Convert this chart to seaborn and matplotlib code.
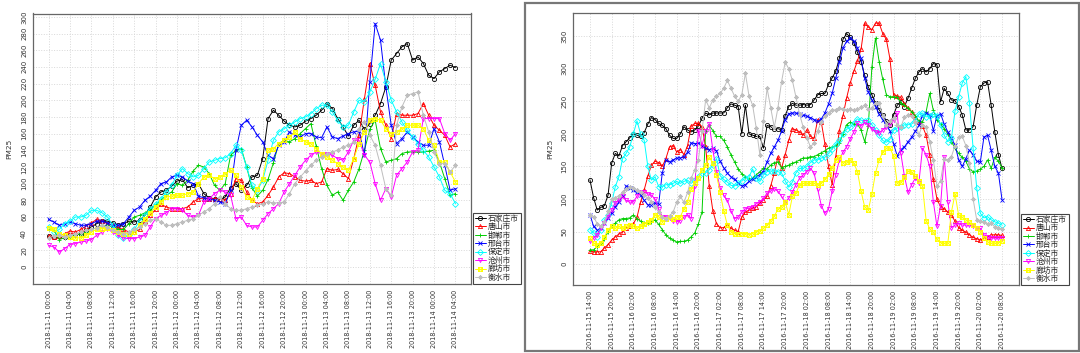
import numpy as np
import pandas as pd
import matplotlib
matplotlib.use("Agg")
import matplotlib.pyplot as plt
from matplotlib.path import Path
from matplotlib.patches import Rectangle
import seaborn as sns

# ---------------- data ----------------
cities = ['石家庄市', '唐山市', '邯郸市', '邢台市', '保定市', '沧州市', '廊坊市', '衡水市']

left_start = '2018-11-11 00:00'
left_tick_start, left_tick_end, left_tick_step = '2018-11-11 00:00', '2018-11-14 04:00', '4h'
right_start = '2016-11-15 14:00'
right_tick_start, right_tick_end, right_tick_step = '2016-11-15 14:00', '2016-11-20 08:00', '6h'

# left panel: hourly PM2.5, 2018-11-11 00:00 .. 2018-11-14 04:00
L_shijiazhuang = [37,36,37,36,38,38,40,44,48,52,
                  55,55,53,50,52,55,54,56,62,72,
                  84,90,92,97,103,105,95,98,100,88,
                  83,82,81,84,95,100,92,98,108,110,
                  130,178,188,182,175,170,168,170,175,178,
                  182,188,196,190,178,168,157,170,176,165,
                  172,182,196,216,248,256,264,268,248,252,
                  244,230,226,234,238,242,239]
L_tangshan = [37,36,37,40,43,42,45,49,53,57,
              55,52,50,47,45,42,42,45,55,62,
              69,75,72,70,70,70,72,78,82,82,
              82,82,82,80,88,106,104,90,80,76,
              78,86,96,108,113,112,108,104,103,104,
              100,102,118,116,117,112,106,130,158,202,
              244,218,186,170,154,184,182,182,182,184,
              196,182,170,164,158,144,148]
L_handan = [45,44,33,35,36,38,40,42,45,47,
            48,50,48,45,45,52,60,62,65,68,
            75,80,86,90,100,98,104,115,122,120,
            112,98,92,100,134,140,142,120,95,85,
            92,105,125,148,152,150,154,160,166,172,
            145,118,98,86,90,80,92,102,118,140,
            165,176,142,126,128,130,136,138,138,138,
            138,139,140,126,106,86,88]
L_xingtai = [57,54,50,52,54,52,50,50,52,55,
             55,53,50,50,52,60,68,72,80,85,
             92,100,102,108,110,108,103,100,85,83,
             82,80,78,76,92,140,170,176,168,158,
             150,134,130,146,150,162,158,156,160,160,
             156,155,168,156,154,157,160,162,163,134,
             222,292,272,216,170,148,154,162,156,150,
             146,146,166,150,122,92,94]
L_baoding = [48,42,45,52,55,60,60,62,68,68,
             65,60,50,38,35,38,45,55,62,70,
             75,82,90,98,110,118,112,108,110,118,
             126,128,130,131,136,146,140,120,98,92,
             104,128,152,162,166,170,174,178,180,184,
             190,194,194,186,176,168,170,186,200,198,
             210,225,244,222,200,186,174,164,156,148,
             140,132,120,108,92,88,76]
L_cangzhou = [26,24,18,22,27,28,30,31,33,38,
              42,45,42,38,35,34,34,36,38,48,
              58,62,65,70,70,68,62,60,62,78,
              82,88,92,90,86,58,60,50,48,48,
              56,64,70,76,90,100,110,120,128,134,
              138,136,136,134,130,128,138,152,152,134,
              126,100,80,94,84,110,118,126,138,140,
              178,178,178,178,160,152,160]
L_langfang = [47,45,40,38,36,35,35,38,42,45,
              46,47,44,42,40,40,42,50,58,65,
              72,78,84,85,86,86,88,90,100,108,
              110,106,108,112,116,110,96,84,80,94,
              106,140,142,148,152,156,162,154,150,148,
              142,136,132,128,124,120,116,130,148,162,
              176,178,176,166,160,162,166,170,170,170,
              166,152,146,126,126,114,102]
L_hengshui = [35,37,38,36,38,40,42,44,45,47,
              50,48,44,42,40,42,45,48,52,56,
              58,54,50,50,52,54,56,58,62,66,
              70,76,84,76,70,68,68,70,72,74,
              76,78,77,77,78,88,100,108,115,122,
              128,132,136,138,140,144,146,150,165,174,
              158,146,122,94,86,170,192,206,208,210,
              182,162,138,124,124,114,122]

# right panel: hourly PM2.5, 2016-11-15 14:00 .. 2016-11-20 08:00
R_shijiazhuang = [129,102,83,87,90,106,155,170,166,182,
                  188,194,200,198,196,202,215,225,222,216,
                  213,208,198,193,193,200,211,206,203,206,
                  212,224,232,229,232,232,232,232,240,246,
                  244,242,200,244,200,198,196,196,178,213,
                  211,207,208,206,228,242,247,244,244,245,
                  244,245,252,260,262,262,276,286,296,316,
                  345,354,348,340,325,311,290,272,260,247,
                  237,229,219,214,229,244,249,242,255,270,
                  285,295,300,295,300,308,306,249,270,262,
                  252,251,242,229,206,206,211,244,272,278,
                  280,244,203,168,147]
R_tangshan = [20,19,19,19,25,30,37,42,46,50,
              55,58,62,72,95,114,135,152,158,156,
              150,162,180,182,172,176,168,182,212,216,
              216,211,180,120,82,62,56,56,60,55,
              52,50,72,80,83,86,88,94,99,104,
              120,140,165,147,168,190,208,206,203,198,
              206,196,193,222,218,185,150,122,165,205,
              228,255,278,296,312,330,370,364,360,370,
              370,354,345,315,260,258,256,246,240,234,
              226,218,212,198,168,130,100,88,85,80,
              75,66,56,52,49,45,41,39,37,40,
              42,45,45,45,44]
R_handan = [22,22,27,32,38,50,58,63,68,70,
            70,71,75,70,66,63,63,65,68,61,
            53,45,40,37,34,35,35,37,42,48,
            62,80,205,213,205,196,196,190,180,168,
            157,146,139,134,130,132,137,142,147,146,
            152,156,157,148,150,152,155,157,160,163,
            163,165,165,168,171,174,178,180,182,186,
            200,214,218,215,215,206,188,212,303,347,
            311,284,260,257,257,256,248,244,239,234,
            227,220,218,234,262,236,222,215,208,200,
            188,178,170,164,158,146,142,143,146,150,
            160,147,164,158,148]
R_xingtai = [76,58,52,55,63,71,78,88,95,104,
             120,117,114,110,106,98,91,91,94,92,
             140,160,157,160,163,163,165,172,186,185,
             186,182,178,176,178,174,158,148,140,134,
             130,125,120,122,127,131,134,137,142,157,
             170,180,190,204,222,231,232,232,230,229,
             227,225,222,219,223,232,246,262,285,310,
             332,342,347,343,332,316,285,265,252,242,
             230,222,213,205,185,166,176,180,188,195,
             204,213,228,232,229,205,228,231,215,203,
             193,183,160,150,162,175,168,158,157,195,
             198,175,150,140,99]
R_baoding = [53,48,42,53,68,76,94,119,134,162,
             170,180,200,220,200,190,150,129,134,119,
             119,122,122,124,127,124,127,129,124,129,
             134,140,140,145,152,162,136,130,126,121,
             120,124,128,132,134,146,132,127,137,142,
             143,143,142,140,128,118,126,140,147,147,
             150,156,160,160,163,164,170,177,184,190,
             200,207,210,217,223,221,220,221,214,206,
             198,190,187,192,206,209,211,214,214,215,
             220,230,232,226,227,230,228,214,198,188,
             193,235,257,278,288,247,178,117,78,71,
             73,68,65,63,60]
R_cangzhou = [35,40,45,55,63,73,83,94,99,104,
              98,95,96,104,110,111,108,106,100,85,
              73,73,71,66,65,67,72,76,70,120,
              205,182,205,215,175,142,117,106,98,82,
              70,72,80,85,86,88,93,96,101,109,
              112,116,112,104,96,101,111,122,132,137,
              142,147,140,115,90,78,85,112,137,160,
              172,180,192,203,216,212,218,214,208,203,
              202,206,210,215,222,232,170,135,110,122,
              132,125,178,168,150,96,58,90,165,96,
              56,60,63,60,60,60,58,56,55,45,
              42,40,40,40,40]
R_langfang = [40,32,30,32,42,53,58,55,58,55,
              58,60,58,55,58,62,65,68,76,73,
              65,70,73,70,73,73,85,96,115,124,
              133,145,152,164,155,137,110,82,60,50,
              47,47,47,47,45,47,50,51,55,60,
              67,74,84,88,96,76,104,109,122,124,
              124,124,124,122,125,130,138,148,160,164,
              155,157,160,155,142,112,88,83,108,140,
              160,172,178,178,166,124,126,134,143,141,
              135,128,120,67,54,49,38,33,32,32,
              80,108,75,72,68,64,60,56,50,40,
              34,32,32,33,35]
R_hengshui = [76,73,62,58,65,81,100,102,105,110,
              116,118,117,114,111,106,101,96,88,80,
              72,70,74,80,95,104,95,110,132,145,
              160,205,252,240,252,258,262,270,282,270,
              258,250,260,293,258,244,209,168,220,270,
              240,210,240,280,310,300,282,256,230,210,
              194,180,186,205,218,228,232,236,237,240,
              238,236,238,237,238,241,244,238,240,247,
              248,228,214,220,224,214,210,226,229,228,
              218,198,214,210,188,160,120,128,162,160,
              165,182,195,196,182,155,100,68,66,65,
              61,63,57,55,54]

left_series = [L_shijiazhuang, L_tangshan, L_handan, L_xingtai,
               L_baoding, L_cangzhou, L_langfang, L_hengshui]
right_series = [R_shijiazhuang, R_tangshan, R_handan, R_xingtai,
                R_baoding, R_cangzhou, R_langfang, R_hengshui]

# ---------------- style ----------------
colors = ['#000000', '#FF0000', '#00CD00', '#0000FF',
          '#00FFFF', '#FF00FF', '#FFFF00', '#BEBEBE']
M, L = Path.MOVETO, Path.LINETO
box_x = Path([(-1, -1), (1, -1), (1, 1), (-1, 1), (-1, -1),
              (-1, -1), (1, 1), (-1, 1), (1, -1)],
             [M, L, L, L, L, M, L, M, L])
markers = ['o', '^', '+', 'x', 'D', 'v', box_x, (8, 2, 0)]

sns.set_style('white')
plt.rcParams['font.family'] = ['DejaVu Sans', 'Noto Sans CJK SC']

fig = plt.figure(figsize=(10.8, 3.53), dpi=100)
W, H = 1080.0, 353.0


def ax_rect(x0, y0, x1, y1):
    return [x0 / W, 1 - y1 / H, (x1 - x0) / W, (y1 - y0) / H]


ax1 = fig.add_axes(ax_rect(33, 13.5, 471, 283.7))
ax2 = fig.add_axes(ax_rect(573, 12.7, 1019, 285))


def draw(ax, start, series, ylim, yticks, xlim_h, tstart, tend, tstep, ylab_x):
    n = len(series[0])
    times = pd.date_range(start, periods=n, freq='h')
    for city, vals, col, mk in zip(cities, series, colors, markers):
        df = pd.DataFrame({'time': times, 'PM25': vals})
        sns.lineplot(data=df, x='time', y='PM25', ax=ax, color=col,
                     marker=mk, markersize=3.0, markerfacecolor='none',
                     markeredgecolor=col, markeredgewidth=0.6,
                     linewidth=0.7, errorbar=None, sort=False, legend=False)
    t0 = pd.Timestamp(start)
    ax.set_xlim(t0 + pd.Timedelta(hours=xlim_h[0]), t0 + pd.Timedelta(hours=xlim_h[1]))
    ax.set_ylim(*ylim)
    ticks = pd.date_range(tstart, tend, freq=tstep)
    ax.set_xticks(ticks)
    ax.set_xticklabels([t.strftime('%Y-%m-%d %H:%M') for t in ticks],
                       rotation=90, fontsize=4.7, color='#333333')
    ax.set_yticks(yticks)
    ax.set_yticklabels([str(v) for v in yticks], rotation=90,
                       fontsize=5.0, color='#333333', va='center')
    ax.tick_params(axis='both', direction='out', length=2.5, width=0.6,
                   color='#555555', pad=1.8)
    ax.grid(True, color='#d8d8d8', linestyle=':', linewidth=0.7)
    ax.set_axisbelow(True)
    for s in ax.spines.values():
        s.set_color('#666666')
        s.set_linewidth(0.9)
        s.set_visible(True)
    ax.set_xlabel('')
    ax.set_ylabel('PM25', fontsize=5.3, color='#333333')
    ax.yaxis.set_label_coords(ylab_x, 0.5)
    leg = ax.legend(handles=ax.lines[:len(cities)], labels=cities,
                    loc='lower left', bbox_to_anchor=(1.004, 0.0),
                    borderaxespad=0, frameon=True, fancybox=False,
                    edgecolor='#444444', framealpha=1,
                    prop={'family': ['Noto Sans CJK SC', 'DejaVu Sans'], 'size': 5.6},
                    handlelength=1.4, handletextpad=0.3, labelspacing=0.05,
                    borderpad=0.25, numpoints=1)
    leg.get_frame().set_linewidth(0.8)


draw(ax1, left_start, left_series, (-20, 304), list(range(0, 301, 20)),
     (-2.9, 78.9), left_tick_start, left_tick_end, left_tick_step, -0.048)
draw(ax2, right_start, right_series, (-32, 386), list(range(0, 351, 50)),
     (-4.7, 118.7), right_tick_start, right_tick_end, right_tick_step, -0.045)

# frame around the right-hand picture
fig.patches.append(Rectangle((525 / W, 1 - 351 / H), (1079 - 525) / W, (351 - 2.5) / H,
                             transform=fig.transFigure, fill=False,
                             edgecolor='#777777', linewidth=1.6))

fig.savefig('out.png', dpi=100)
